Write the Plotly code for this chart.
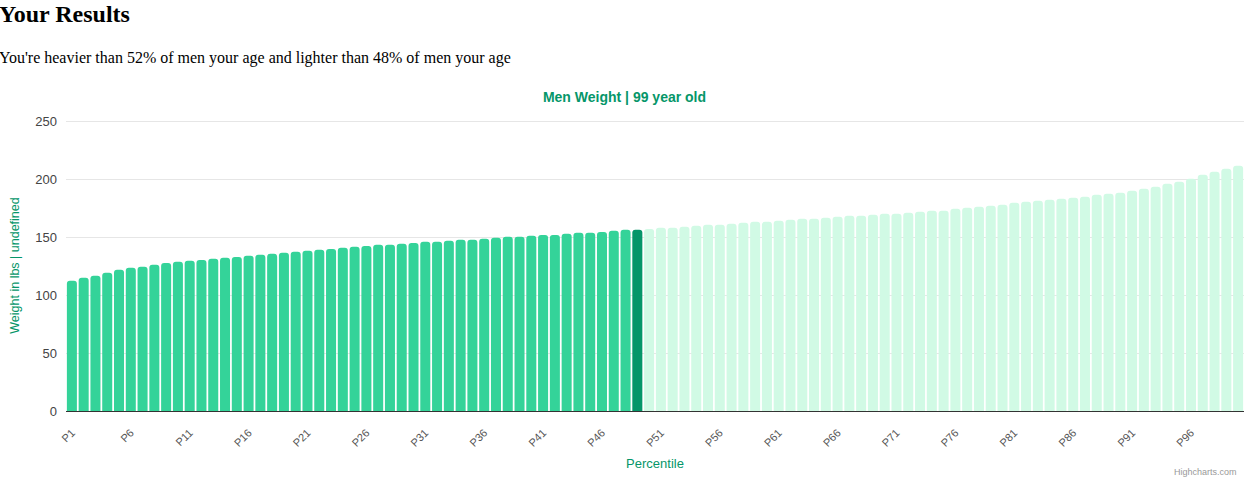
"""Men weight percentile chart (Highcharts look) rebuilt with Plotly."""

import plotly.graph_objects as go

# ---- data ----
percentiles = [f"P{i}" for i in range(1, 101)]
weights_lbs = [
    112.5, 115.1, 116.8, 119.4, 122.0, 123.7, 124.6, 126.3, 128.0, 128.9,
    129.8, 130.6, 131.5, 132.4, 133.2, 134.1, 135.0, 135.8, 136.7, 137.6,
    138.4, 139.3, 140.1, 141.0, 141.9, 142.7, 143.6, 143.6, 144.5, 145.3,
    146.2, 146.2, 147.1, 147.9, 147.9, 148.8, 149.7, 150.5, 150.5, 151.4,
    152.2, 152.2, 153.1, 154.0, 154.0, 154.8, 155.7, 156.6, 156.6, 157.4,
    158.3, 158.3, 159.2, 160.0, 160.9, 160.9, 161.8, 162.6, 163.5, 163.5,
    164.4, 165.2, 166.1, 166.1, 167.0, 167.8, 168.7, 168.7, 169.6, 170.4,
    170.4, 171.3, 172.1, 173.0, 173.0, 174.7, 175.6, 176.5, 177.3, 178.2,
    179.9, 180.8, 181.7, 182.5, 183.4, 184.3, 185.1, 186.9, 187.7, 188.6,
    190.3, 192.0, 193.8, 196.4, 198.1, 200.7, 204.2, 206.7, 209.3, 211.9,
]
tick_labels = percentiles[::5]
y_ticks = [0, 50, 100, 150, 200, 250]
user_percentile = "P49"

heading = "Your Results"
summary = "You're heavier than 52% of men your age and lighter than 48% of men your age"
chart_title = "Men Weight | 99 year old"

# ---- styling ----
W, H = 1249, 481
PLOT_L, PLOT_R, PLOT_T, PLOT_B = 66, 1244, 122, 411
Y_TOP = 251.5  # a little headroom so the 250 gridline is drawn
GREEN = "#059669"
BELOW = "#34d399"
ABOVE = "#d1fae5"
SANS = "Liberation Sans, Arial, sans-serif"
SERIF = "Liberation Serif, Times New Roman, serif"

user_idx = percentiles.index(user_percentile)
colors = [BELOW if i < user_idx else GREEN if i == user_idx else ABOVE
          for i in range(len(percentiles))]

px_per_unit = (PLOT_B - PLOT_T) / 250
top_px = PLOT_B - Y_TOP * px_per_unit


def px_x(x):
    return (x - PLOT_L) / (PLOT_R - PLOT_L)


def px_y(y):
    return (PLOT_B - y) / (PLOT_B - top_px)


fig = go.Figure(
    go.Bar(
        x=percentiles,
        y=weights_lbs,
        marker=dict(color=colors, line=dict(width=0), cornerradius=3),
        hovertemplate="%{x}: %{y} lbs<extra></extra>",
    )
)

fig.update_layout(
    width=W,
    height=H,
    margin=dict(l=PLOT_L, r=W - PLOT_R, t=round(top_px), b=H - PLOT_B),
    paper_bgcolor="white",
    plot_bgcolor="white",
    bargap=0.15,
    showlegend=False,
    font=dict(family=SANS, color="#333333"),
    title=dict(
        text=f"<b>{chart_title}</b>",
        x=0.5, xref="container", xanchor="center",
        y=1 - 97 / H, yref="container", yanchor="middle",
        font=dict(size=14, color=GREEN, family=SANS),
    ),
    xaxis=dict(
        type="category",
        tickmode="array",
        tickvals=tick_labels,
        ticktext=tick_labels,
        tickangle=-45,
        tickfont=dict(size=11, color="#555555"),
        ticklabelstandoff=10,
        showgrid=False,
        showline=True,
        linecolor="#333333",
        linewidth=1,
        ticks="",
        title=dict(text="Percentile", font=dict(size=13, color=GREEN), standoff=11),
    ),
    yaxis=dict(
        range=[0, Y_TOP],
        tickvals=y_ticks,
        tickfont=dict(size=13, color="#444444"),
        showgrid=True,
        gridcolor="#e6e6e6",
        gridwidth=1,
        zeroline=False,
        ticks="",
        ticklabelstandoff=8,
        title=dict(text="Weight in lbs | undefined", font=dict(size=12.5, color=GREEN),
                   standoff=12),
    ),
    annotations=[
        dict(text=f"<b>{heading}</b>", x=px_x(0), y=px_y(14), xref="paper", yref="paper",
             xanchor="left", yanchor="middle", showarrow=False, xshift=-3,
             font=dict(family=SERIF, size=24, color="black")),
        dict(text=summary, x=px_x(0), y=px_y(58), xref="paper", yref="paper",
             xanchor="left", yanchor="middle", showarrow=False, xshift=-3,
             font=dict(family=SERIF, size=16, color="black")),
        dict(text="Highcharts.com", x=px_x(1239), y=px_y(472), xref="paper", yref="paper",
             xanchor="right", yanchor="middle", showarrow=False,
             font=dict(family=SANS, size=9, color="#999999")),
    ],
)

fig.write_html(
    "out.html",
    config={"displayModeBar": False},
    post_script="document.body.style.margin='0';",
)
